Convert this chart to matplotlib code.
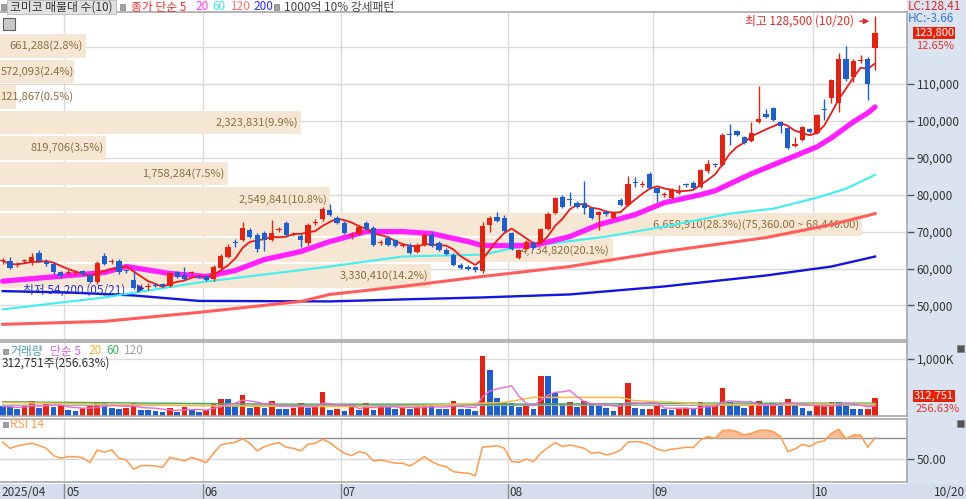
import numpy as np
import pandas as pd
import matplotlib
matplotlib.use("Agg")
import matplotlib.pyplot as plt
from matplotlib.patches import Rectangle
from matplotlib.lines import Line2D
from matplotlib.transforms import offset_copy, blended_transform_factory

plt.rcParams['font.family'] = ['Noto Sans CJK KR', 'DejaVu Sans']

# ---- daily candles 2025/04 .. 2025/10/20 ----
opens = [62000, 62160, 60900, 62000, 61890, 64330, 61890, 61350, 58920, 58800,
         58700, 59190, 58110, 56220, 63510, 61700, 62160, 59400, 57000, 54700,
         55000, 55600, 55700, 55130, 58920, 58110, 58700, 57900, 57840, 57030,
         60270, 63240, 67100, 67840, 70540, 69190, 69730, 67840, 70300, 72430,
         69100, 68920, 67030, 72200, 73510, 75950, 73780, 72430, 69100, 69460,
         72430, 71080, 66900, 68380, 67840, 66000, 66490, 64600, 66490, 69190,
         67030, 65140, 63780, 61080, 60540, 60540, 59190, 71890, 74050, 73780,
         69730, 62970, 65410, 67030, 67030, 70810, 75140, 79460, 78700, 77840,
         77840, 76490, 74400, 75100, 73800, 78650, 77300, 83400, 82600, 85680,
         81890, 79900, 79190, 80400, 82800, 83240, 82160, 86400, 88200, 88110,
         96300, 97300, 95680, 94590, 99730, 101890, 103510, 99730, 98110, 93100,
         94860, 97840, 96760, 103100, 106220, 104860, 116760, 111890, 116300, 116760,
         119730]
highs = [62800, 63000, 61800, 62700, 64300, 65000, 62500, 61800, 59300, 59500,
         59400, 59600, 58500, 61900, 64200, 62500, 62600, 59800, 59500, 55800,
         56000, 56000, 56000, 59000, 59300, 60300, 59400, 58300, 58200, 60900,
         63900, 66600, 68000, 72700, 71100, 69600, 70200, 73200, 71200, 72800,
         69800, 69300, 72300, 73300, 76700, 77600, 74200, 72800, 69800, 71800,
         73000, 71400, 67700, 68700, 68100, 66900, 66800, 66900, 69600, 70000,
         67400, 65500, 64100, 61400, 60900, 60800, 72700, 74200, 75400, 74500,
         70000, 65400, 67600, 67400, 71100, 75200, 79500, 79900, 80800, 78200,
         83600, 76800, 75600, 75800, 75500, 79000, 85100, 84800, 83700, 86100,
         82200, 80600, 81700, 82700, 83200, 83600, 87100, 89500, 88600, 96600,
         99100, 97600, 96000, 99800, 109500, 103300, 103900, 100000, 98400, 95700,
         98700, 98200, 102000, 106000, 111400, 118400, 120300, 116900, 117800, 117300,
         128500]
lows = [61300, 60000, 60500, 61600, 61000, 61900, 60800, 58600, 57500, 58300,
        58200, 58000, 56000, 55900, 61000, 61200, 58500, 58700, 54400, 54300,
        54200, 55000, 54900, 54900, 57300, 56800, 58400, 57300, 56500, 56700,
        59900, 62800, 65900, 67400, 68300, 64600, 64700, 67500, 69900, 68900,
        68700, 65950, 66500, 71800, 73000, 74200, 72000, 69300, 67900, 69100,
        70500, 66200, 66500, 66200, 65900, 65700, 64000, 64300, 66200, 65800,
        64800, 63700, 60800, 59900, 59600, 59100, 58900, 70000, 72600, 69900,
        65100, 62700, 65100, 65300, 66700, 70500, 74800, 76500, 77000, 76500,
        74800, 73400, 70300, 74300, 73400, 77000, 77000, 82000, 82200, 81600,
        78100, 79500, 78900, 80100, 82200, 81500, 81800, 86000, 87600, 87800,
        93500, 95900, 93700, 94300, 99400, 100700, 99900, 96700, 92400, 92900,
        94500, 96700, 96400, 100300, 104900, 102500, 110800, 110500, 115800, 105700,
        113800]
closes = [62100, 60270, 61100, 62200, 63240, 62160, 61350, 58920, 57840, 58950,
          58900, 58380, 56220, 61620, 61350, 61900, 58920, 59190, 54600, 54900,
          55200, 55300, 55200, 58650, 57570, 57030, 59000, 57700, 56760, 60540,
          63510, 65950, 66900, 71080, 68650, 65400, 67840, 69730, 70800, 69190,
          69300, 67840, 71890, 72500, 76220, 74600, 72430, 69730, 69300, 71350,
          70810, 66490, 67300, 66490, 66220, 66500, 64330, 66490, 69190, 66220,
          65140, 64060, 61080, 60270, 60000, 59460, 71620, 73780, 72970, 70270,
          65410, 65140, 67300, 65680, 70810, 74870, 79190, 76760, 78500, 76760,
          76490, 73780, 75300, 74900, 75100, 77300, 82970, 83200, 82800, 81890,
          80540, 80100, 81350, 80600, 82600, 81890, 86760, 88300, 88000, 96220,
          96100, 96220, 94050, 96760, 100540, 101080, 100270, 98650, 92700, 93800,
          98380, 97030, 101620, 102900, 111080, 116760, 111350, 116220, 116500, 109900,
          123800]

# volume in thousand shares
volume_k = [167, 161, 131, 167, 262, 149, 208, 161, 179, 107,
            89, 149, 179, 220, 220, 149, 119, 149, 232, 107,
            107, 89, 71, 149, 71, 161, 107, 71, 107, 226,
            298, 298, 202, 369, 149, 202, 149, 256, 131, 131,
            149, 226, 149, 179, 417, 107, 131, 89, 208, 107,
            226, 107, 179, 179, 119, 149, 131, 167, 179, 179,
            131, 131, 268, 131, 119, 89, 1059, 803, 315, 238,
            232, 161, 167, 119, 702, 695, 399, 208, 238, 161,
            256, 220, 190, 137, 89, 208, 583, 137, 119, 125,
            190, 131, 107, 131, 140, 119, 238, 179, 185, 494,
            238, 179, 149, 190, 268, 179, 220, 179, 298, 220,
            137, 89, 190, 220, 250, 245, 208, 119, 115, 122,
            312.751]

rsi14 = [66.1, 60.3, 62.5, 64.0, 65.2, 63.0, 60.3, 53.3, 50.7, 52.3,
         52.3, 51.3, 46.5, 58.7, 56.5, 59.0, 50.7, 49.1, 40.1, 43.6,
         43.6, 43.3, 42.0, 51.6, 50.0, 48.1, 51.6, 49.1, 46.5, 55.5,
         63.6, 65.2, 66.1, 69.5, 65.2, 57.8, 62.0, 64.2, 65.8, 61.3,
         60.3, 57.8, 64.2, 65.2, 69.0, 65.8, 60.3, 55.5, 53.3, 57.1,
         55.5, 48.1, 49.1, 47.5, 45.9, 45.9, 43.3, 47.5, 52.3, 47.5,
         44.2, 42.6, 37.8, 36.8, 36.2, 33.9, 61.5, 62.0, 62.9, 60.3,
         47.5, 46.8, 50.0, 47.5, 55.5, 61.0, 65.8, 62.0, 63.6, 62.0,
         60.3, 55.5, 56.5, 53.9, 55.5, 58.7, 66.1, 66.8, 66.1, 63.6,
         59.7, 57.8, 59.4, 60.3, 61.3, 61.0, 68.4, 71.6, 70.0, 77.4,
         78.0, 76.4, 73.2, 74.8, 77.4, 78.0, 76.4, 71.6, 57.1, 59.7,
         64.2, 62.0, 66.1, 67.4, 74.8, 78.7, 69.4, 73.2, 73.2, 61.3,
         70.6]

# longer moving averages, read at a few candles
ma20_at = [0, 14, 17, 23, 28, 32, 36, 41, 45, 50, 55, 59, 64, 66, 70, 73, 78, 82, 87, 91,
           96, 98, 103, 107, 112, 114, 117, 119, 120]
ma20_val = [56570, 58920, 60540, 58650, 57840, 59460, 62430, 64600, 67300, 70000,
            70000, 69460, 67300, 66220, 66220, 66220, 68650, 71890, 74600, 77840,
            80000, 81080, 85680, 88920, 92970, 95400, 99730, 102160, 103780]
ma60_at = [0, 14, 27, 36, 45, 55, 66, 70, 83, 91, 100, 106, 112, 116, 120]
ma60_val = [48920, 52160, 56220, 58380, 60540, 63240, 63780, 65410, 68650, 71350,
            74870, 76220, 79190, 81620, 85400]
ma120_at = [0, 14, 27, 41, 45, 55, 66, 78, 91, 105, 114, 120]
ma120_val = [44870, 45680, 48110, 51080, 52970, 55140, 57840, 60540, 64600, 68380,
             71890, 74870]
ma200_at = [0, 9, 18, 27, 45, 55, 66, 78, 91, 105, 114, 120]
ma200_val = [53870, 53510, 52700, 51220, 51080, 51620, 52160, 52970, 55140, 58110,
             60540, 63240]

vma20_at = [0, 14, 27, 41, 55, 66, 69, 73, 85, 87, 93, 96, 104, 112, 120]
vma20_val = [238, 208, 179, 167, 167, 226, 238, 327, 327, 268, 238, 208, 197, 208, 208]
vma60_at = [0, 20, 40, 66, 85, 95, 120]
vma60_val = [250, 226, 208, 208, 214, 226, 226]
vma120_at = [0, 60, 120]
vma120_val = [190, 185, 190]

# volume profile (매물대), bottom band first
band_edges = [54600, 61520, 68440, 75360, 82280, 89200, 96120, 103040, 109960, 116880, 123800]
band_vol = [3330410, 4734820, 6658910, 2549841, 1758284, 819706, 2323831, 121867, 572093, 661288]
band_pct = [14.2, 20.1, 28.3, 10.8, 7.5, 3.5, 9.9, 0.5, 2.4, 2.8]

month_start = [9, 28, 47, 70, 90, 112]
month_labels = ['05', '06', '07', '08', '09', '10']

# ---- layout ----
W, H = 966, 499


def fx(px):
    return px / W


def fy(py):
    return 1 - py / H


RED, BLUE = '#e8200f', '#1e5fd0'
GRID = '#dadada'

fig = plt.figure(figsize=(W / 100, H / 100), dpi=100)
fig.add_artist(Rectangle((fx(907), 0), 1 - fx(907), 1, transform=fig.transFigure,
                         fc='#dae4f0', ec='none', zorder=-5))
fig.add_artist(Rectangle((0, 0), 1, fy(484), transform=fig.transFigure,
                         fc='#d4deec', ec='none', zorder=-4))

xl = (-0.37, 124.39)
ax_p = fig.add_axes([0, fy(340), fx(907), (340 - 12) / H])
ax_v = fig.add_axes([0, fy(416), fx(907), (416 - 342) / H])
ax_r = fig.add_axes([0, fy(482), fx(907), (482 - 419) / H])
for ax in (ax_p, ax_v, ax_r):
    ax.set_xlim(*xl)
    ax.set_xticks([])
    ax.yaxis.tick_right()
    ax.tick_params(axis='y', length=5, width=1, color='#555555', pad=2,
                   labelsize=8.5, labelcolor='#333333')
    for s in ax.spines.values():
        s.set_color('#a9a9a9')
        s.set_linewidth(1.2)
    ax.spines['left'].set_visible(False)
    for m in month_start:
        ax.axvline(m - 0.5, color=GRID, lw=1, zorder=0)

xs = np.arange(len(closes))
span = xl[1] - xl[0]

# ---- price panel ----
ax_p.set_ylim(40624, 129512)
ax_p.set_yticks(range(50000, 110001, 10000))
ax_p.set_yticklabels([f'{v:,}' for v in range(50000, 110001, 10000)])
for v in range(40000, 130001, 10000):
    ax_p.axhline(v, color=GRID, lw=1, zorder=0)

vmax = max(band_vol)
for k in range(len(band_vol)):
    lo, hi = band_edges[k], band_edges[k + 1]
    mid = (lo + hi) / 2
    w = band_vol[k] / vmax * 0.95 * span
    ax_p.barh(mid, w, height=(hi - lo) * 0.93, left=xl[0], color='#f6e7d4', zorder=1)
    label = f'{band_vol[k]:,}({band_pct[k]}%)'
    if band_vol[k] == vmax:
        label += f'({hi:,.2f} ~ {lo:,.2f})'
    if w / span * 907 > len(label) * 6.1 + 2:
        ax_p.text(xl[0] + w - 0.4, mid, label, ha='right', va='center',
                  fontsize=8, color='#8c6e3e', zorder=1.5)
    else:
        ax_p.text(xl[0] + 0.05, mid, label, ha='left', va='center',
                  fontsize=8, color='#8c6e3e', zorder=1.5)

ax_p.plot(ma200_at, ma200_val, color='#1414e6', lw=1.7, zorder=2)
ax_p.plot(ma120_at, ma120_val, color='#ff5c5c', lw=2.2, zorder=2)
ax_p.plot(ma60_at, ma60_val, color='#3ff0f0', lw=1.5, zorder=2)
ax_p.plot(ma20_at, ma20_val, color='#ff1fff', lw=3.8, zorder=2.5, solid_capstyle='round')
ma5 = pd.Series(closes).rolling(5, min_periods=1).mean()
ax_p.plot(xs, ma5, color='#f01818', lw=1.3, zorder=3)

o, h, l, c = map(np.array, (opens, highs, lows, closes))
col = np.where(c >= o, RED, BLUE)
ax_p.vlines(xs, l, h, colors=col, lw=1, zorder=4)
ax_p.bar(xs, np.maximum(np.abs(c - o), 300), bottom=np.minimum(o, c), width=0.72,
         color=col, lw=0, zorder=5)

# highest / lowest marks
hi_i = int(np.argmax(h))
lo_i = int(np.argmin(l))
ax_p.text(hi_i, h[hi_i], f'최고 {h[hi_i]:,} (10/20)', ha='right', va='center',
          fontsize=8.5, color='#e52a2a', zorder=6,
          transform=offset_copy(ax_p.transData, fig=fig, x=-21, y=-5.5, units='dots'))
ax_p.annotate('', xy=(hi_i, h[hi_i]), xytext=(hi_i, h[hi_i]),
              xycoords=offset_copy(ax_p.transData, fig=fig, x=-3, y=-5.5, units='dots'),
              textcoords=offset_copy(ax_p.transData, fig=fig, x=-18, y=-5.5, units='dots'),
              arrowprops=dict(arrowstyle='-|>', color='#e52a2a', lw=1, mutation_scale=8),
              zorder=6)
ax_p.text(lo_i, l[lo_i], f'최저 {l[lo_i]:,} (05/21)', ha='right', va='center',
          fontsize=8.5, color='#2b35d0', zorder=6,
          transform=offset_copy(ax_p.transData, fig=fig, x=-23, y=0, units='dots'))
ax_p.text(lo_i, l[lo_i], '▶', ha='right', va='center', fontsize=6.5, color='#2b35d0',
          zorder=6, transform=offset_copy(ax_p.transData, fig=fig, x=-3, y=0, units='dots'))

# ---- volume panel ----
vol = np.array(volume_k, dtype=float)
vcol = np.where(np.r_[False, vol[1:] > vol[:-1]], RED, BLUE)
ax_v.set_ylim(0, 1300)
ax_v.set_yticks([1000])
ax_v.set_yticklabels(['1,000K'])
ax_v.axhline(1000, color=GRID, lw=1, zorder=0)
ax_v.bar(xs, vol, width=0.78, color=vcol, lw=0, zorder=2)
ax_v.plot(vma120_at, vma120_val, color='#a8a8a8', lw=1, zorder=3)
ax_v.plot(vma60_at, vma60_val, color='#3fa862', lw=1, zorder=3)
ax_v.plot(vma20_at, vma20_val, color='#f5bd45', lw=1.1, zorder=3)
ax_v.plot(xs, pd.Series(vol).rolling(5, min_periods=1).mean(), color='#e86ad8', lw=1, zorder=3)

# ---- RSI panel ----
r = np.array(rsi14)
ax_r.set_ylim(27.8, 88.6)
ax_r.set_yticks([50])
ax_r.set_yticklabels(['50.00'])
ax_r.axhline(70, color='#8f8f8f', lw=1, zorder=1)
ax_r.axhline(50, color='#d8d8d8', lw=1, zorder=0)
ax_r.fill_between(xs, r, 70, where=r > 70, interpolate=True, color='#f6bd96', lw=0, zorder=2)
ax_r.plot(xs, r, color='#ff9a4d', lw=1.1, zorder=3)

# ---- x axis band ----
bt = blended_transform_factory(ax_p.transData, fig.transFigure)
for m, lab in zip(month_start, month_labels):
    fig.add_artist(Line2D([m - 0.5, m - 0.5], [0, fy(484)], transform=bt, color='#8c8c8c', lw=1))
    fig.text(m - 0.3, fy(492), lab, transform=bt, ha='left', va='center', fontsize=8.5, color='#333333')
fig.text(fx(1), fy(492), '2025/04', ha='left', va='center', fontsize=8.5, color='#333333')
fig.text(fx(934), fy(492), '10/20', ha='left', va='center', fontsize=8.5, color='#333333')

# ---- legends and right side boxes ----
def square(px, py, size=5, color='#a0a0a0'):
    fig.add_artist(Rectangle((fx(px), fy(py + size / 2)), size / W, size / H,
                             transform=fig.transFigure, fc=color, ec='#808080', lw=0.5))


square(1, 7)
fig.add_artist(Rectangle((fx(7), fy(14)), 109 / W, 14 / H, transform=fig.transFigure,
                         fc='#e2e2e2', ec='#c4c4c4', lw=0.8))
fig.text(fx(10), fy(7), '코미코 매물대 수(10)', va='center', fontsize=8.5, color='#333333')
square(120, 7)
fig.text(fx(131), fy(7), '종가 단순 5', va='center', fontsize=8.5, color='#ff2a2a')
fig.text(fx(195), fy(7), '20', va='center', fontsize=8.5, color='#ff33ff')
fig.text(fx(212), fy(7), '60', va='center', fontsize=8.5, color='#33e0f0')
fig.text(fx(231), fy(7), '120', va='center', fontsize=8.5, color='#ff7070')
fig.text(fx(253), fy(7), '200', va='center', fontsize=8.5, color='#2a2aff')
square(274, 7)
fig.text(fx(284), fy(7), '1000억 10% 강세패턴', va='center', fontsize=8.5, color='#444444')
fig.add_artist(Rectangle((fx(3), fy(30)), 12 / W, 12 / H, transform=fig.transFigure,
                         fc='#c9c9c9', ec='#606060', lw=0.8))

fig.text(fx(908), fy(6), 'LC:128.41', va='center', fontsize=8.5, color='#e02828')
fig.text(fx(908), fy(18), 'HC:-3.66', va='center', fontsize=8.5, color='#3a78d4')
fig.text(fx(914), fy(33), f'{closes[-1]:,}', va='center', fontsize=8, color='white',
         bbox=dict(boxstyle='square,pad=0.1', fc='#e8210c', ec='none'))
fig.text(fx(916), fy(46), '12.65%', va='center', fontsize=8, color='#e83030')

square(3, 351)
fig.text(fx(10), fy(351), '거래량', va='center', fontsize=8.5, color='#4fa0a8')
fig.text(fx(50), fy(351), '단순 5', va='center', fontsize=8.5, color='#e060e0')
fig.text(fx(88), fy(351), '20', va='center', fontsize=8.5, color='#f5b030')
fig.text(fx(106), fy(351), '60', va='center', fontsize=8.5, color='#40b060')
fig.text(fx(124), fy(351), '120', va='center', fontsize=8.5, color='#a0a0a0')
fig.text(fx(2), fy(363), f'{volume_k[-1] * 1000:,.0f}주(256.63%)', va='center',
         fontsize=8.5, color='#333333')
fig.text(fx(914), fy(396), f'{volume_k[-1] * 1000:,.0f}', va='center', fontsize=8,
         color='white', bbox=dict(boxstyle='square,pad=0.1', fc='#e8210c', ec='none'))
fig.text(fx(916), fy(409.5), '256.63%', va='center', fontsize=8, color='#e83030')

square(3, 424)
fig.text(fx(10), fy(424), 'RSI 14', va='center', fontsize=8.5, color='#ff9a50')

square(957, 348, size=7, color='#555555')
square(957, 423, size=7, color='#555555')

fig.savefig('out.png', dpi=100)
